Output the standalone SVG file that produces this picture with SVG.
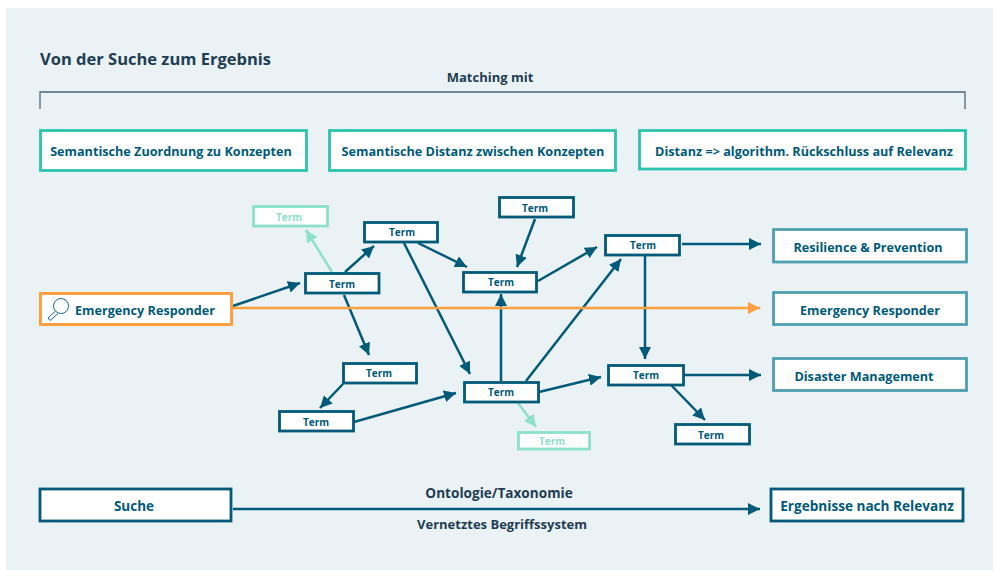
<svg xmlns="http://www.w3.org/2000/svg" width="993" height="570" viewBox="0 0 993 570">
<style>
text{font-family:"Open Sans","Noto Sans",sans-serif;font-weight:700;text-anchor:middle;fill:#005a78}
.box{fill:#fff;stroke-width:2.8}
.teal{stroke:#2bc4ac}
.blue{stroke:#005a78}
.mid{stroke:#4f9fb2}
.mint{stroke:#8de0cc}
.t{font-size:10px}
.b{font-size:12.65px}
.d{font-size:13px;fill:#1f3d52}
.c{fill:none;stroke:#005a78;stroke-width:2.5}
</style>
<defs>
<marker id="ah" markerUnits="userSpaceOnUse" markerWidth="13" markerHeight="12" refX="12" refY="6" orient="auto"><path d="M0 0L12 6L0 12Z" fill="#005a78"/></marker>
<marker id="am" markerUnits="userSpaceOnUse" markerWidth="13" markerHeight="12" refX="12" refY="6" orient="auto"><path d="M0 0L12 6L0 12Z" fill="#8de0cc"/></marker>
<marker id="ao" markerUnits="userSpaceOnUse" markerWidth="13" markerHeight="12" refX="12" refY="6" orient="auto"><path d="M0 0L12 6L0 12Z" fill="#ff9f40"/></marker>
</defs>
<rect width="993" height="570" fill="#fff"/>
<rect x="6" y="8" width="987" height="562" fill="#eaf2f6"/>
<text x="40" y="65" style="font-size:16.5px;text-anchor:start;fill:#1f3d52">Von der Suche zum Ergebnis</text>
<text class="d" x="490" y="82">Matching mit</text>
<path d="M40 109V92H965V109" fill="none" stroke="#4f6675" stroke-width="1.3"/>
<g id="connectors">
<path class="c" d="M233 306L300 283" marker-end="url(#ah)"/>
<path d="M332 272L306 230" fill="none" stroke="#8de0cc" stroke-width="2.5" marker-end="url(#am)"/>
<path class="c" d="M345 272L374 246" marker-end="url(#ah)"/>
<path class="c" d="M344 295L369 355" marker-end="url(#ah)"/>
<path class="c" d="M343 384L320 408" marker-end="url(#ah)"/>
<path class="c" d="M354 422L456 393" marker-end="url(#ah)"/>
<path class="c" d="M404 243L470 374" marker-end="url(#ah)"/>
<path class="c" d="M418 243L467 267" marker-end="url(#ah)"/>
<path class="c" d="M535 219L517 267" marker-end="url(#ah)"/>
<path class="c" d="M538 281L597 247" marker-end="url(#ah)"/>
<path class="c" d="M501 381V294" marker-end="url(#ah)"/>
<path class="c" d="M526 381L621 259" marker-end="url(#ah)"/>
<path class="c" d="M539 392L601 377" marker-end="url(#ah)"/>
<path d="M518 403L536 427" fill="none" stroke="#8de0cc" stroke-width="2.5" marker-end="url(#am)"/>
<path class="c" d="M682 244H761" marker-end="url(#ah)"/>
<path class="c" d="M645 256V359" marker-end="url(#ah)"/>
<path class="c" d="M684 375H761" marker-end="url(#ah)"/>
<path class="c" d="M671 385L705 420" marker-end="url(#ah)"/>
<path d="M233 308H760" fill="none" stroke="#ff9f40" stroke-width="2.5" marker-end="url(#ao)"/>
<path class="c" d="M233 509H760" marker-end="url(#ah)"/>
</g>
<g id="n-top1"><rect class="box teal" x="40.5" y="130.5" width="266" height="40"/><text class="b" x="171" y="156">Semantische Zuordnung zu Konzepten</text></g>
<g id="n-top2"><rect class="box teal" x="329.5" y="130.5" width="286" height="40"/><text class="b" x="473" y="156">Semantische Distanz zwischen Konzepten</text></g>
<g id="n-top3"><rect class="box teal" x="639.5" y="130.5" width="326" height="38.500"/><text class="b" x="804" y="156">Distanz =&gt; algorithm. Rückschluss auf Relevanz</text></g>
<g id="n-er"><rect x="40.500" y="293.500" width="191" height="31" fill="#fff" stroke="#ff9f40" stroke-width="3"/>
<g fill="none" stroke="#1d6f8a" stroke-width="1"><circle cx="61" cy="306" r="7.500"/><path d="M55.500 311L48 318L50 320.500L58 313.500"/></g>
<text class="b" x="145" y="315">Emergency Responder</text></g>
<g id="n-mint1"><rect class="box mint" x="253.500" y="206.500" width="74" height="19.500"/><text class="t" x="289" y="221" style="fill:#8de0cc">Term</text></g>
<g id="n-t1"><rect class="box blue" x="305.500" y="273.500" width="73.500" height="19.500"/><text class="t" x="342" y="288">Term</text></g>
<g id="n-t2"><rect class="box blue" x="364.500" y="222.500" width="73" height="19.500"/><text class="t" x="402" y="236">Term</text></g>
<g id="n-t3"><rect class="box blue" x="499.500" y="197.500" width="74" height="19.500"/><text class="t" x="535" y="212">Term</text></g>
<g id="n-t4"><rect class="box blue" x="463.500" y="272.500" width="73" height="19.500"/><text class="t" x="501" y="286">Term</text></g>
<g id="n-t5"><rect class="box blue" x="605.500" y="235.500" width="74" height="19.500"/><text class="t" x="643" y="249">Term</text></g>
<g id="n-t6"><rect class="box blue" x="343.500" y="363.500" width="73" height="19.500"/><text class="t" x="379" y="377">Term</text></g>
<g id="n-t7"><rect class="box blue" x="279.500" y="411.500" width="74" height="19.500"/><text class="t" x="316" y="426">Term</text></g>
<g id="n-t8"><rect class="box blue" x="464.500" y="382.500" width="74" height="19.500"/><text class="t" x="501" y="396">Term</text></g>
<g id="n-t9"><rect class="box blue" x="608.500" y="365.500" width="75" height="19.500"/><text class="t" x="646" y="379">Term</text></g>
<g id="n-t10"><rect class="box blue" x="675.500" y="424.500" width="74" height="19.500"/><text class="t" x="711" y="439">Term</text></g>
<g id="n-mint2"><rect class="box mint" x="518.500" y="432.500" width="71" height="16.500"/><text class="t" x="552" y="445" style="fill:#8de0cc">Term</text></g>
<g id="n-r1"><rect class="box mid" x="773.500" y="229.500" width="193" height="32.500"/><text class="b" x="868" y="252">Resilience &amp; Prevention</text></g>
<g id="n-r2"><rect class="box mid" x="773.500" y="292.500" width="193" height="32"/><text class="b" x="870" y="315">Emergency Responder</text></g>
<g id="n-r3"><rect class="box mid" x="773.500" y="358.500" width="193" height="32"/><text class="b" x="864" y="381">Disaster Management</text></g>
<g id="n-suche"><rect class="box blue" x="40" y="489" width="191" height="32"/><text class="b" x="134" y="511" style="font-size:13.5px">Suche</text></g>
<g id="n-erg"><rect class="box blue" x="771" y="489" width="192" height="32"/><text class="b" x="867" y="511" style="font-size:13.6px">Ergebnisse nach Relevanz</text></g>
<text class="d" x="499" y="498" style="font-size:13.6px">Ontologie/Taxonomie</text>
<text class="d" x="502" y="529">Vernetztes Begriffssystem</text>
</svg>
